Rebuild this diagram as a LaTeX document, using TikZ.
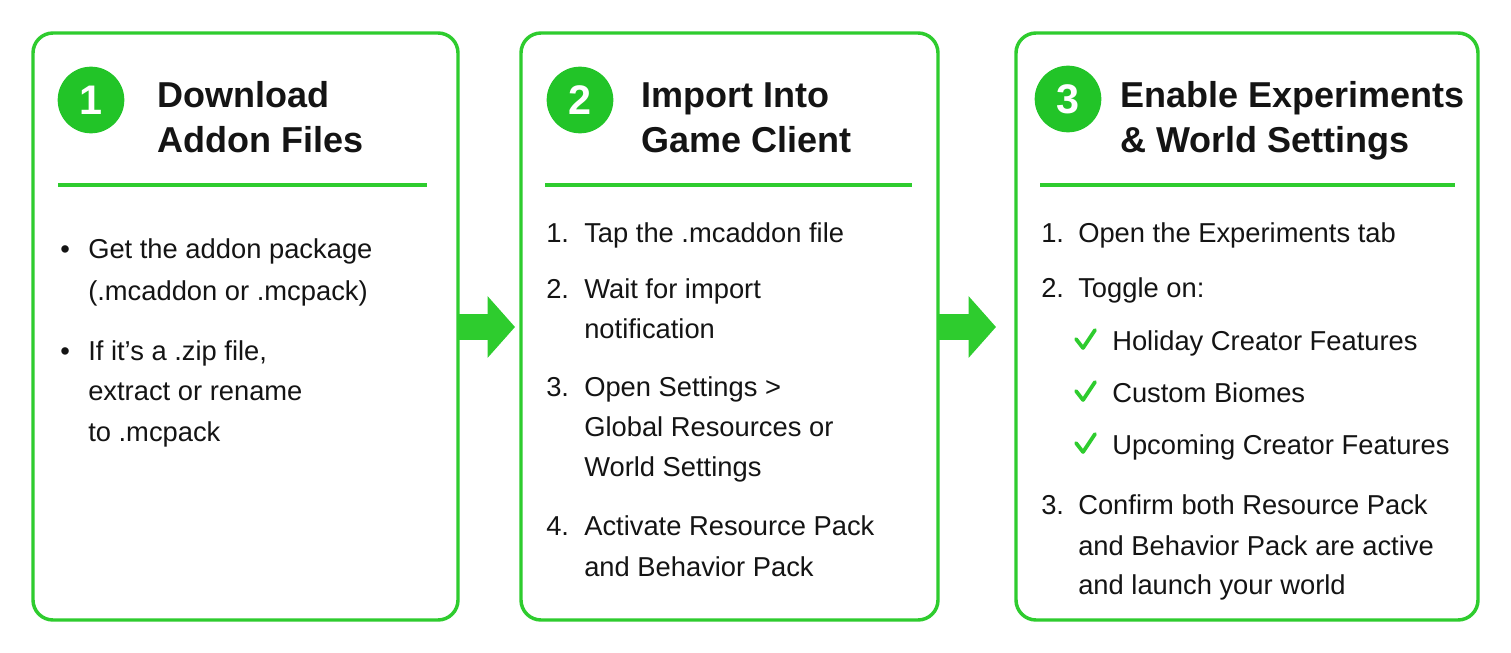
\documentclass[tikz,border=0pt]{standalone}
\usepackage{fontspec}
\setmainfont{Liberation Sans}
\usetikzlibrary{arrows.meta,calc}
\definecolor{grn}{RGB}{46,204,46}
\definecolor{grnfill}{RGB}{34,196,40}
\definecolor{txt}{RGB}{20,20,20}
\begin{document}
\begin{tikzpicture}[x=0.75pt,y=-0.75pt,
  card/.style={draw=grn,line width=2.6pt,rounded corners=15pt,fill=white},
  numcirc/.style={circle,fill=grnfill,minimum size=50pt,inner sep=0pt,text=white,font=\fontsize{31}{31}\selectfont\bfseries},
  ttl/.style={anchor=base west,inner sep=0pt,text=txt,font=\fontsize{27}{27}\selectfont\bfseries},
  body/.style={anchor=base west,inner sep=0pt,text=txt,font=\fontsize{20.5}{20.5}\selectfont},
  chk/.style={draw=grn,line width=2.8pt,line cap=round,line join=round},
  divider/.style={draw=grn,line width=2.4pt},
  fatarrow/.style={draw=grn,line width=19pt,-{Triangle[length=20.5pt,width=45pt]}}
]
\useasboundingbox[fill=white] (0,0) rectangle (1511,653);

% cards
\draw[card] (33,33) rectangle (458,620);
\draw[card] (521,33) rectangle (938,620);
\draw[card] (1016,33) rectangle (1478,620);
\coordinate (b1e) at (458,327);
\coordinate (a1) at (515,327);
\coordinate (b2e) at (938,327);
\coordinate (a2) at (996,327);

% arrows
\draw[fatarrow] (b1e) -- (a1);
\draw[fatarrow] (b2e) -- (a2);

% card 1
\node[numcirc] (n1) at (91,100) {1};
\node[ttl] (t1a) at (157,107) {Download};
\node[ttl] (t1b) at (157,152) {Addon Files};
\coordinate (d1a) at (58,185); \coordinate (d1b) at (427,185);
\draw[divider] (d1a) -- (d1b);
\node[body] (p1b) at (60,258) {•};
\node[body] (p1a) at (88,258) {Get the addon package};
\node[body] (p1c) at (88,300) {(.mcaddon or .mcpack)};
\node[body] (p1d) at (60,360) {•};
\node[body] (p1e) at (88,360) {If it’s a .zip file,};
\node[body] (p1f) at (88,400) {extract or rename};
\node[body] (p1g) at (88,441) {to .mcpack};

% card 2
\node[numcirc] (n2) at (580,100) {2};
\node[ttl] (t2a) at (641,107) {Import Into};
\node[ttl] (t2b) at (641,152) {Game Client};
\coordinate (d2a) at (545,185); \coordinate (d2b) at (912,185);
\draw[divider] (d2a) -- (d2b);
\node[body] (q1n) at (546,242) {1.};
\node[body] (q1) at (584,242) {Tap the .mcaddon file};
\node[body] (q2n) at (546,298) {2.};
\node[body] (q2) at (584,298) {Wait for import};
\node[body] (q2b) at (584,338) {notification};
\node[body] (q3n) at (546,396) {3.};
\node[body] (q3) at (584,396) {Open Settings >};
\node[body] (q3b) at (584,436) {Global Resources or};
\node[body] (q3c) at (584,476) {World Settings};
\node[body] (q4n) at (546,535) {4.};
\node[body] (q4) at (584,535) {Activate Resource Pack};
\node[body] (q4b) at (584,576) {and Behavior Pack};

% card 3
\node[numcirc] (n3) at (1068,99) {3};
\node[ttl] (t3a) at (1120,107) {Enable Experiments};
\node[ttl] (t3b) at (1120,152) {\& World Settings};
\coordinate (d3a) at (1040,185); \coordinate (d3b) at (1455,185);
\draw[divider] (d3a) -- (d3b);
\node[body] (r1n) at (1041,242) {1.};
\node[body] (r1) at (1078,242) {Open the Experiments tab};
\node[body] (r2n) at (1041,297) {2.};
\node[body] (r2) at (1078,297) {Toggle on:};
\draw[chk] (1076,339) -- (1083,348) -- (1095,330);
\node[body] (s1) at (1112,350) {Holiday Creator Features};
\draw[chk] (1076,391) -- (1083,400) -- (1095,382);
\node[body] (s2) at (1112,402) {Custom Biomes};
\draw[chk] (1076,443) -- (1083,452) -- (1095,434);
\node[body] (s3) at (1112,454) {Upcoming Creator Features};
\node[body] (r3n) at (1041,514) {3.};
\node[body] (r3) at (1078,514) {Confirm both Resource Pack};
\node[body] (r3b) at (1078,555) {and Behavior Pack are active};
\node[body] (r3c) at (1078,594) {and launch your world};
\end{tikzpicture}
\end{document}
